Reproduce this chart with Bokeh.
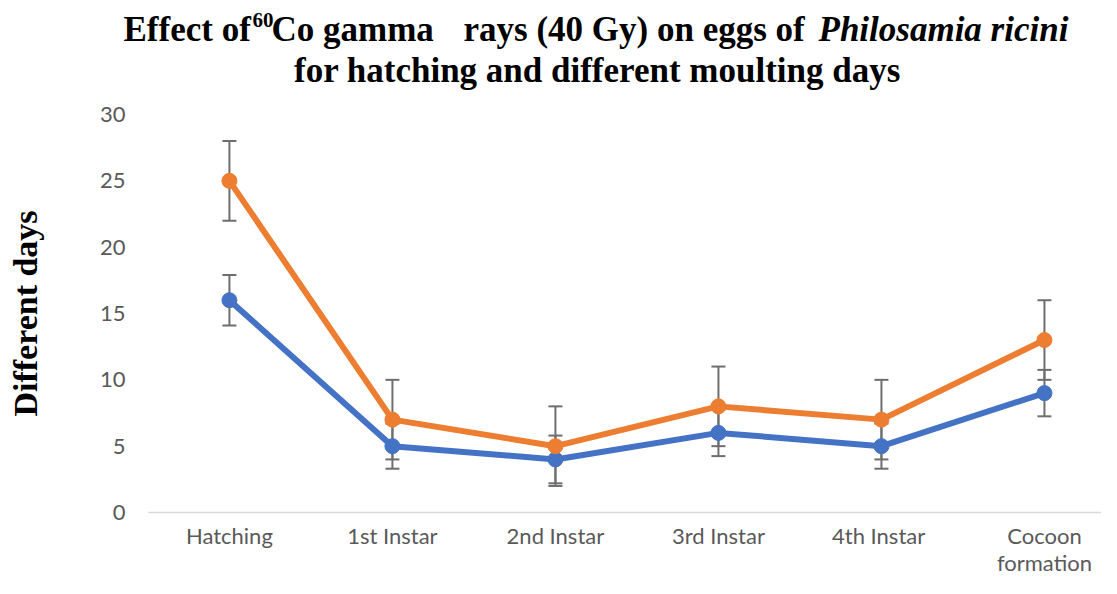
from bokeh.plotting import figure
from bokeh.models import Range1d, FixedTicker, Whisker, ColumnDataSource, TeeHead, Label
from bokeh.layouts import column
from bokeh.embed import file_html
from bokeh.resources import INLINE

# ---- data ----
stages = ["Hatching", "1st Instar", "2nd Instar", "3rd Instar", "4th  Instar", "Cocoon\nformation"]
control = [16, 5, 4, 6, 5, 9]
control_err = [1.9, 1.7, 1.8, 1.75, 1.7, 1.75]
treated_40gy = [25, 7, 5, 8, 7, 13]
treated_40gy_err = [3, 3, 3, 3, 3, 3]
y_ticks = [0, 5, 10, 15, 20, 25, 30]

BLUE = "#4472C4"
ORANGE = "#ED7D31"
ERR = "#6e6e6e"
TICK_TXT = "#595959"
W = 1101
TITLE_H = 100
LEFT = 121

xs = list(range(len(stages)))

# ---------------- title strip (rich text) ----------------
t = figure(width=W, height=TITLE_H, output_backend="svg", toolbar_location=None,
           x_range=Range1d(LEFT, W), y_range=Range1d(TITLE_H, 0),
           x_axis_location=None, y_axis_location=None,
           min_border_left=LEFT, min_border_right=0, min_border_top=0, min_border_bottom=0)
t.outline_line_color = None
t.xgrid.grid_line_color = None
t.ygrid.grid_line_color = None

def piece(text, x, y, size, style="bold", align="left"):
    t.add_layout(Label(x=x, y=y, text=text, text_font="Liberation Serif",
                       text_font_style=style, text_font_size=size, text_color="black",
                       text_align=align, text_baseline="alphabetic"))

piece("Effect of", 123, 29, "35px")
piece("60", 252, 19, "21px")
piece("Co gamma", 271, 29, "35px")
piece("rays (40 Gy) on eggs of", 463, 29, "35px")
piece("Philosamia ricini", 818, 29, "35px", style="bold italic")
piece("for hatching and different moulting days", 597, 70, "35px", align="center")

# ---------------- main chart ----------------
p = figure(width=W, height=578 - TITLE_H, output_backend="svg", toolbar_location=None,
           x_range=Range1d(-0.662, 5.35), y_range=Range1d(0, 30),
           min_border_left=LEFT, min_border_right=0, min_border_top=14, min_border_bottom=60)
p.outline_line_color = None
p.xgrid.grid_line_color = None
p.ygrid.grid_line_color = None

# x axis
p.xaxis.ticker = FixedTicker(ticks=xs)
p.xaxis.bounds = (-0.497, 5.35)
p.xaxis.major_label_overrides = {i: s for i, s in enumerate(stages)}
p.xaxis.axis_line_color = "#d9d9d9"
p.xaxis.axis_line_width = 1.5
p.xaxis.major_tick_line_color = None
p.xaxis.minor_tick_line_color = None
p.xaxis.major_tick_out = 0
p.xaxis.major_tick_in = 0
p.xaxis.major_label_standoff = 9
p.xaxis.major_label_text_font = "Lato"
p.xaxis.major_label_text_font_size = "22px"
p.xaxis.major_label_text_color = TICK_TXT
p.xaxis.major_label_text_line_height = 1.0

# y axis
p.yaxis.ticker = FixedTicker(ticks=y_ticks)
p.yaxis.axis_line_color = None
p.yaxis.major_tick_line_color = None
p.yaxis.minor_tick_line_color = None
p.yaxis.major_tick_out = 0
p.yaxis.major_tick_in = 0
p.yaxis.major_label_standoff = -4
p.yaxis.major_label_text_font = "Lato"
p.yaxis.major_label_text_font_size = "22px"
p.yaxis.major_label_text_color = TICK_TXT
p.yaxis.axis_label = "Different days"
p.yaxis.axis_label_text_font = "Liberation Serif"
p.yaxis.axis_label_text_font_style = "bold"
p.yaxis.axis_label_text_font_size = "34px"
p.yaxis.axis_label_text_color = "black"
p.yaxis.axis_label_standoff = 53

# error bars
for vals, errs in ((control, control_err), (treated_40gy, treated_40gy_err)):
    src = ColumnDataSource(dict(x=xs,
                                lower=[v - e for v, e in zip(vals, errs)],
                                upper=[v + e for v, e in zip(vals, errs)]))
    w = Whisker(base="x", lower="lower", upper="upper", source=src, level="underlay",
                line_color=ERR, line_width=2,
                upper_head=TeeHead(size=14, line_color=ERR, line_width=2),
                lower_head=TeeHead(size=14, line_color=ERR, line_width=2))
    p.add_layout(w)

# series
p.line(xs, control, line_color=BLUE, line_width=6)
p.scatter(xs, control, size=15, fill_color=BLUE, line_color=BLUE)
p.line(xs, treated_40gy, line_color=ORANGE, line_width=6)
p.scatter(xs, treated_40gy, size=15, fill_color=ORANGE, line_color=ORANGE)

open("out.html", "w").write(file_html(column(t, p, spacing=0), INLINE))
